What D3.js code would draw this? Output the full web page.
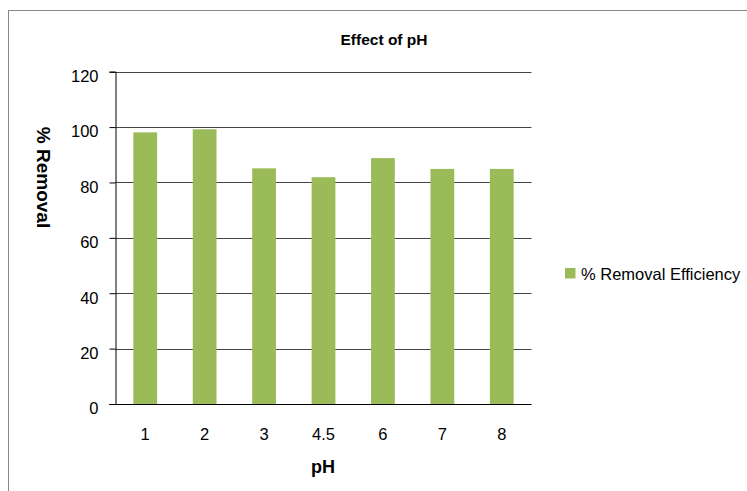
<!DOCTYPE html>
<html><head><meta charset="utf-8">
<script src="https://cdn.jsdelivr.net/npm/d3@7"></script>
<style>body{margin:0;background:#fff}svg{display:block}text{font-family:"Liberation Sans",Arial,sans-serif}</style>
</head><body>
<svg id="c" width="747" height="491"></svg>
<script>
const categories = ["1","2","3","4.5","6","7","8"];
const removal = [98.1, 99.2, 85.1, 81.9, 88.8, 84.9, 84.9];
const yTicks = [0,20,40,60,80,100,120];
const seriesName = "% Removal Efficiency";

const FONT = "\"Liberation Sans\",Arial,sans-serif";
const svg = d3.select("#c");
svg.append("rect").attr("x",8.5).attr("y",10.5).attr("width",760).attr("height",500)
  .attr("fill","#fff").attr("stroke","#888").attr("stroke-width",1);

const pLeft = 115.5, pRight = 531.5, pTop = 71.7, pBottom = 404;
const x = d3.scaleBand().domain(categories).range([pLeft,pRight]).paddingInner(0.6).paddingOuter(0.3);
const y = d3.scaleLinear().domain([0,120]).range([pBottom,pTop]);

// gridlines
svg.append("g").selectAll("line").data(yTicks.filter(d=>d>0)).join("line")
  .attr("x1",pLeft).attr("x2",pRight)
  .attr("y1",d=>Math.round(y(d))+0.5).attr("y2",d=>Math.round(y(d))+0.5)
  .attr("stroke","#444").attr("stroke-width",1);

// bars
svg.append("g").selectAll("rect").data(removal).join("rect")
  .attr("x",(d,i)=>x(categories[i])).attr("width",x.bandwidth())
  .attr("y",d=>y(d)).attr("height",d=>y(0)-y(d))
  .attr("fill","#9BBB59");

// y axis
const ya = svg.append("g").attr("transform",`translate(${pLeft},0)`)
  .call(d3.axisLeft(y).tickValues(yTicks).tickSize(6).tickPadding(11).tickFormat(d3.format("d")));
ya.select(".domain").attr("stroke","#000");
ya.selectAll(".tick line").attr("stroke","#000");
ya.selectAll("text").attr("font-size",16.5).attr("fill","#000").attr("font-family",FONT).attr("y",4.5);

// x axis
const xa = svg.append("g").attr("transform",`translate(0,${Math.round(pBottom)+0.5})`)
  .call(d3.axisBottom(x).tickSize(0).tickPadding(24));
xa.select(".domain").attr("stroke","#000").attr("d",`M${pLeft-6},0H${pRight}`);
xa.selectAll("text").attr("font-size",16.5).attr("fill","#000").attr("font-family",FONT);

// title
svg.append("text").attr("x",384).attr("y",45).attr("text-anchor","middle")
  .attr("font-size",15.5).attr("font-weight","bold").text("Effect of pH");
// axis titles
svg.append("text").attr("x",323).attr("y",473).attr("text-anchor","middle")
  .attr("font-size",18).attr("font-weight","bold").text("pH");
svg.append("text").attr("transform","translate(37,177.5) rotate(90)").attr("text-anchor","middle")
  .attr("font-size",19).attr("font-weight","bold").text("% Removal");

// legend
svg.append("rect").attr("x",565).attr("y",268).attr("width",10.5).attr("height",10.5).attr("fill","#9BBB59");
svg.append("text").attr("x",581).attr("y",280).attr("font-size",16.5).attr("fill","#000").text(seriesName);
</script>
</body></html>
